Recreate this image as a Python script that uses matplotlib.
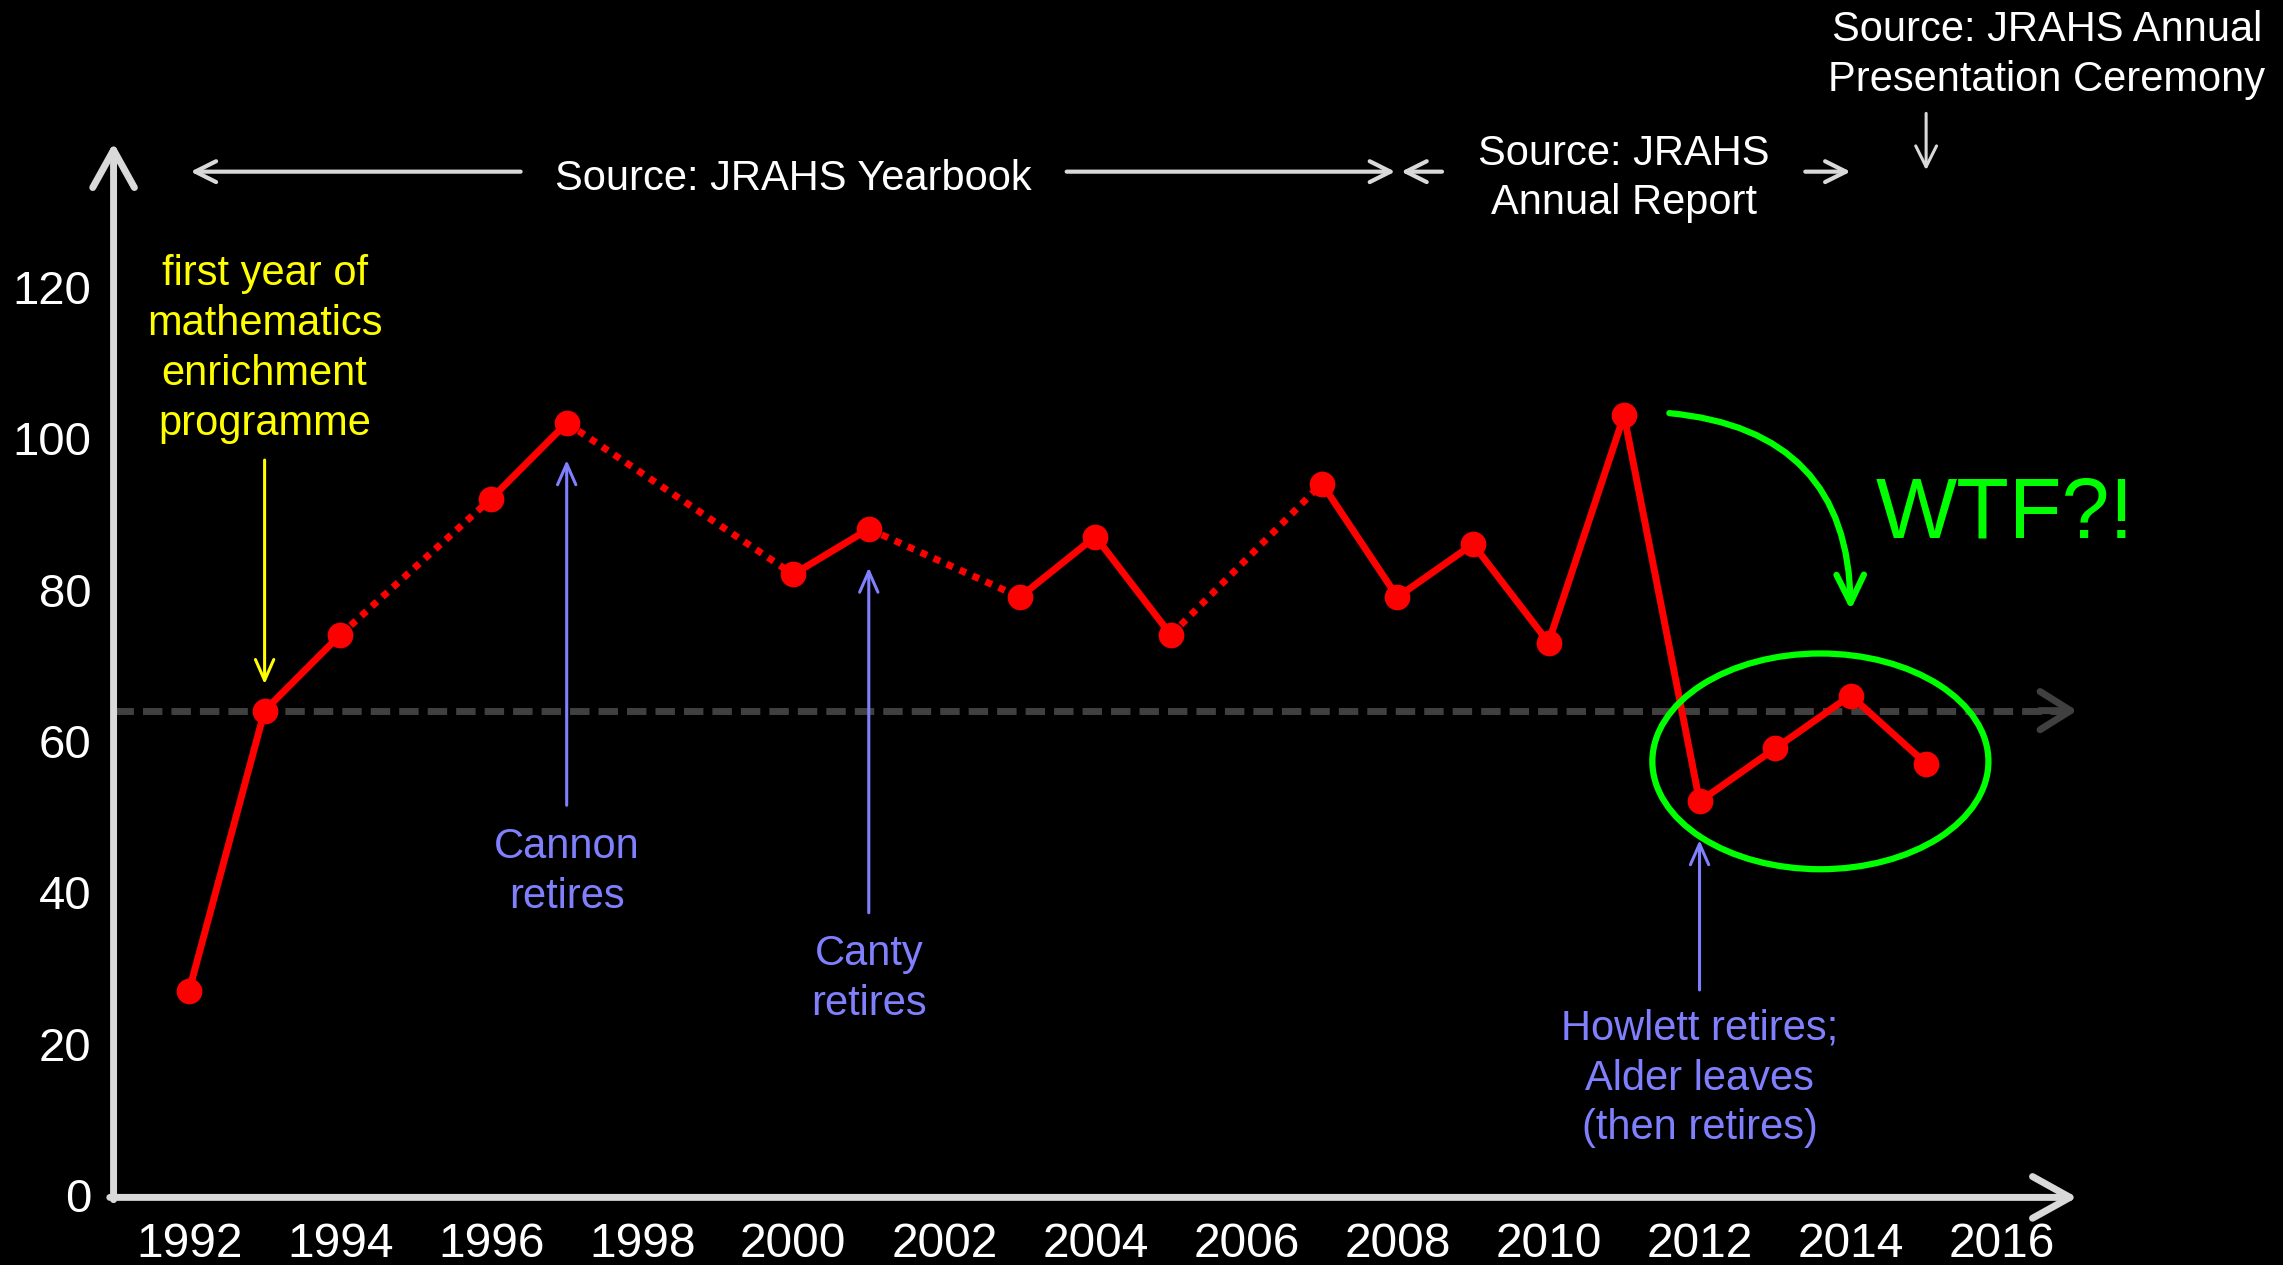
import matplotlib
matplotlib.use('Agg')
import matplotlib.pyplot as plt
from matplotlib.patches import Ellipse

plt.rcParams['font.family'] = ['Liberation Sans', 'DejaVu Sans']

# ---- data ----
years = [1992, 1993, 1994, 1996, 1997, 2000, 2001, 2003, 2004, 2005,
         2007, 2008, 2009, 2010, 2011, 2012, 2013, 2014, 2015]
scores = [27, 64, 74, 92, 102, 82, 88, 79, 87, 74,
          94, 79, 86, 73, 103, 52, 59, 66, 57]
benchmark = 64
xticks = list(range(1992, 2017, 2))
yticks = [0, 20, 40, 60, 80, 100, 120]

events = [
    (1997, "Cannon\nretires"),
    (2001, "Canty\nretires"),
    (2012, "Howlett retires;\nAlder leaves\n(then retires)"),
]

RED = '#FF0000'
BLUE = '#8080FF'
GREY = '#D9D9D9'
GREEN = '#00FF00'
YELLOW = '#FFFF00'
LS = 1.32

fig = plt.figure(figsize=(22.83, 12.65), dpi=100, facecolor='black')
ax = fig.add_axes([0.04974, 0.05524, 0.8601, 0.8318])
ax.set_facecolor('black')
ax.set_xlim(1991, 2017)
ax.set_ylim(0, 139)
for s in ax.spines.values():
    s.set_visible(False)
ax.set_xticks(xticks)
ax.set_yticks(yticks)
ax.tick_params(axis='x', length=0, pad=19, labelsize=34.5, labelcolor='white')
ax.tick_params(axis='y', length=0, pad=16, labelsize=34, labelcolor='white')

# axis arrows
axis_arrow = dict(arrowstyle='->,head_length=0.45,head_width=0.25', lw=5, color=GREY,
                  shrinkA=0, shrinkB=0, mutation_scale=60, capstyle='round', joinstyle='round')
ax.annotate('', xy=(1991, 139), xytext=(1991, -0.6), arrowprops=axis_arrow, annotation_clip=False)
ax.annotate('', xy=(2017, -0.3), xytext=(1990.95, -0.3), arrowprops=axis_arrow, annotation_clip=False)

# benchmark dashed line
ax.plot([1991, 2016.85], [benchmark, benchmark], color='#404040', lw=5,
        dashes=(2.8, 1.3), zorder=2, solid_capstyle='butt')
ax.annotate('', xy=(2017, benchmark), xytext=(2016.5, benchmark),
            arrowprops=dict(arrowstyle='->,head_length=0.4,head_width=0.25', lw=5, color='#404040',
                            shrinkA=0, shrinkB=0, mutation_scale=55),
            annotation_clip=False, zorder=2)

# data line segments
for i in range(len(years) - 1):
    x0, x1 = years[i], years[i + 1]
    y0, y1 = scores[i], scores[i + 1]
    if x1 - x0 == 1:
        ax.plot([x0, x1], [y0, y1], color=RED, lw=5, solid_capstyle='butt', zorder=4)
    else:
        ax.plot([x0, x1], [y0, y1], color=RED, lw=5, dashes=(1.0, 1.05),
                dash_capstyle='butt', zorder=4)
ax.plot(years, scores, linestyle='none', marker='o', markersize=18.5,
        color=RED, markeredgewidth=0, zorder=5)

thin = dict(arrowstyle='->,head_length=0.5,head_width=0.22', lw=2.2, shrinkA=0, shrinkB=0,
            mutation_scale=30)

# yellow annotation
ax.text(1993, 111.8, "first year of\nmathematics\nenrichment\nprogramme", color=YELLOW,
        fontsize=30, ha='center', va='center', linespacing=LS)
ax.annotate('', xy=(1993, 67.5), xytext=(1993, 97.1),
            arrowprops=dict(thin, color=YELLOW))

# retirement annotations
ev_geom = {1997: (51.5, 97.1, 42.7), 2001: (37.3, 82.9, 28.6), 2012: (27.1, 46.9, 15.4)}
for yr, label in events:
    y_start, y_tip, y_text = ev_geom[yr]
    ax.annotate('', xy=(yr, y_tip), xytext=(yr, y_start),
                arrowprops=dict(thin, color=BLUE))
    ax.text(yr, y_text, label, color=BLUE, fontsize=30, ha='center', va='center',
            linespacing=LS)

# green ellipse + curved arrow + WTF
ax.add_patch(Ellipse((2013.6, 57.3), 4.45, 28.5, fill=False, edgecolor=GREEN, lw=4.5, zorder=6))
ax.annotate('', xy=(2014.0, 77.3), xytext=(2011.6, 103.3),
            arrowprops=dict(arrowstyle='->,head_length=0.45,head_width=0.22', lw=4.5, color=GREEN,
                            shrinkA=0, shrinkB=0, mutation_scale=45,
                            connectionstyle='arc3,rad=-0.45'))
ax.text(2014.33, 89.8, "WTF?!", color=GREEN, fontsize=62, ha='left', va='center')

# source annotations
src = dict(color='white', fontsize=30, ha='center', va='center', linespacing=LS)
ax.text(2000.0, 134.2, "Source: JRAHS Yearbook", **src)
ax.text(2011.0, 134.3, "Source: JRAHS\nAnnual Report", **src)
ax.text(2016.6, 150.6, "Source: JRAHS Annual\nPresentation Ceremony", clip_on=False, **src)

src_arrow = dict(arrowstyle='->,head_length=0.5,head_width=0.25', lw=3, color=GREY,
                 shrinkA=0, shrinkB=0, mutation_scale=30)
yb = 135.2
ax.annotate('', xy=(1992.02, yb), xytext=(1996.39, yb), arrowprops=src_arrow, annotation_clip=False)
ax.annotate('', xy=(2007.97, yb), xytext=(2003.62, yb), arrowprops=src_arrow, annotation_clip=False)
ax.annotate('', xy=(2008.05, yb), xytext=(2008.59, yb), arrowprops=src_arrow, annotation_clip=False)
ax.annotate('', xy=(2014.0, yb), xytext=(2013.4, yb), arrowprops=src_arrow, annotation_clip=False)
ax.annotate('', xy=(2015.0, 135.4), xytext=(2015.0, 142.9),
            arrowprops=dict(src_arrow, lw=2.2), annotation_clip=False)

fig.savefig('out.png', dpi=100, facecolor='black')
